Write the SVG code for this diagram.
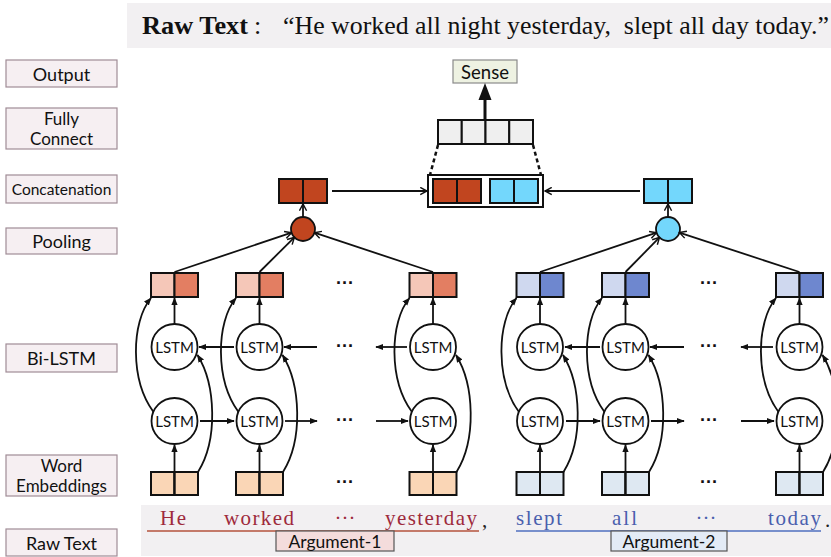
<svg xmlns="http://www.w3.org/2000/svg" width="831" height="557" viewBox="0 0 831 557">
<style>
.lbl{fill:#f6eff2;stroke:#a08c96;stroke-width:1.2}
.lt{font-family:Lato,"Open Sans",sans-serif;font-size:18px;fill:#111;text-anchor:middle;dominant-baseline:central}
.cell{stroke:#111;stroke-width:2}
.c1{fill:#f5c7b8}.c2{fill:#e37e62}.c3{fill:#cfd8ef}.c4{fill:#6e87cf}
.e1{fill:#fad6b6}.e2{fill:#dee8f2}
.pr{fill:#c1451f}.pb{fill:#73d7fc}
.fc{fill:#efefef}
.lstm{fill:#fff;stroke:#111;stroke-width:1.8}
.ltx{font-family:Lato,"Open Sans",sans-serif;font-size:15px;fill:#111;text-anchor:middle;dominant-baseline:central}
.dots{font-family:"Liberation Sans",sans-serif;font-size:18px;font-weight:bold;fill:#111;text-anchor:middle}
.ln{fill:none;stroke:#111;stroke-width:1.8}
.w{font-family:"Liberation Serif",serif;font-size:21px}
.red{fill:#9e2a3c}.blue{fill:#4a5fae}
</style>
<defs>
<marker id="tri" viewBox="0 0 10 10" refX="9" refY="5" markerWidth="8" markerHeight="8" markerUnits="userSpaceOnUse" orient="auto"><path d="M0,1 L10,5 L0,9 z" fill="#111"/></marker>
<marker id="open" viewBox="0 0 10 10" refX="9" refY="5" markerWidth="9" markerHeight="9" markerUnits="userSpaceOnUse" orient="auto"><path d="M1.5,1 L9,5 L1.5,9" fill="none" stroke="#111" stroke-width="1.6"/></marker>
</defs>
<rect width="831" height="557" fill="#fff"/>
<g id="header">
<rect x="127" y="3" width="704" height="45" fill="#f2f0f2"/>
<text x="142" y="34" font-family="Liberation Serif,serif" font-size="26" font-weight="bold" fill="#111" textLength="106" lengthAdjust="spacingAndGlyphs">Raw Text</text>
<text x="254" y="34" font-family="Liberation Serif,serif" font-size="26" fill="#111">:</text>
<text x="283" y="34" font-family="Liberation Serif,serif" font-size="26" fill="#111" xml:space="preserve" textLength="546" lengthAdjust="spacingAndGlyphs">“He worked all night yesterday,  slept all day today.”</text>
</g>
<g id="labels">
<g id="lbl-output"><rect class="lbl" x="6" y="60" width="111" height="27"/><text class="lt" x="61.5" y="73.5">Output</text></g>
<g id="lbl-fc"><rect class="lbl" x="6" y="108" width="111" height="41"/><text class="lt" x="61.5" y="118" style="font-size:17px">Fully</text><text class="lt" x="61.5" y="138" style="font-size:17px">Connect</text></g>
<g id="lbl-concat"><rect class="lbl" x="6" y="175" width="111" height="28"/><text class="lt" x="61.5" y="189" style="font-size:15.5px">Concatenation</text></g>
<g id="lbl-pool"><rect class="lbl" x="6" y="228" width="111" height="26"/><text class="lt" x="61.5" y="241">Pooling</text></g>
<g id="lbl-bilstm"><rect class="lbl" x="6" y="344" width="111" height="28"/><text class="lt" x="61.5" y="358">Bi-LSTM</text></g>
<g id="lbl-emb"><rect class="lbl" x="6" y="455" width="111" height="41"/><text class="lt" x="61.5" y="465" style="font-size:17px">Word</text><text class="lt" x="61.5" y="485" style="font-size:17px">Embeddings</text></g>
<g id="lbl-raw"><rect class="lbl" x="6" y="529" width="111" height="27"/><text class="lt" x="61.5" y="542.5">Raw Text</text></g>
</g>
<g id="sense"><rect x="453" y="60" width="64" height="23" fill="#eef2e2" stroke="#8a8a8a" stroke-width="1.2"/><text class="lt" x="485" y="71.5" style="font-size:18.5px">Sense</text></g>
<g id="fully-connect">
<rect class="cell fc" x="438" y="120" width="23.75" height="24"/><rect class="cell fc" x="461.75" y="120" width="23.75" height="24"/><rect class="cell fc" x="485.5" y="120" width="23.75" height="24"/><rect class="cell fc" x="509.25" y="120" width="23.75" height="24"/>
</g>
<g id="concat">
<rect x="428" y="175" width="115" height="32" fill="#fff" stroke="#111" stroke-width="2"/>
<rect class="cell pr" x="433" y="179" width="24" height="24"/><rect class="cell pr" x="457" y="179" width="24" height="24"/>
<rect class="cell pb" x="490" y="179" width="24" height="24"/><rect class="cell pb" x="514" y="179" width="24" height="24"/>
</g>
<g id="pooled-left"><rect class="cell pr" x="279" y="179" width="24" height="24"/><rect class="cell pr" x="303" y="179" width="24" height="24"/></g>
<g id="pooled-right"><rect class="cell pb" x="644" y="179" width="24" height="24"/><rect class="cell pb" x="668" y="179" width="24" height="24"/></g>
<g id="pool-left"><circle cx="303" cy="229" r="12" class="pr" stroke="#111" stroke-width="1.8"/></g>
<g id="pool-right"><circle cx="668" cy="229" r="12" class="pb" stroke="#111" stroke-width="1.8"/></g>

<g id="top-boxes">
<g id="h1"><rect class="cell c1" x="151" y="273" width="23.5" height="24"/><rect class="cell c2" x="174.5" y="273" width="23.5" height="24"/></g>
<g id="h2"><rect class="cell c1" x="236" y="273" width="23.5" height="24"/><rect class="cell c2" x="259.5" y="273" width="23.5" height="24"/></g>
<g id="h3"><rect class="cell c1" x="409.5" y="273" width="23.5" height="24"/><rect class="cell c2" x="433" y="273" width="23.5" height="24"/></g>
<g id="h4"><rect class="cell c3" x="516.5" y="273" width="23.5" height="24"/><rect class="cell c4" x="540" y="273" width="23.5" height="24"/></g>
<g id="h5"><rect class="cell c3" x="602" y="273" width="23.5" height="24"/><rect class="cell c4" x="625.5" y="273" width="23.5" height="24"/></g>
<g id="h6"><rect class="cell c3" x="776" y="273" width="23.5" height="24"/><rect class="cell c4" x="799.5" y="273" width="23.5" height="24"/></g>
</g>
<g id="lstm-nodes">
<g id="u1"><circle class="lstm" cx="174.5" cy="347" r="23"/><text class="ltx" x="174.5" y="347">LSTM</text></g>
<g id="u2"><circle class="lstm" cx="259.5" cy="347" r="23"/><text class="ltx" x="259.5" y="347">LSTM</text></g>
<g id="u3"><circle class="lstm" cx="433" cy="347" r="23"/><text class="ltx" x="433" y="347">LSTM</text></g>
<g id="u4"><circle class="lstm" cx="540" cy="347" r="23"/><text class="ltx" x="540" y="347">LSTM</text></g>
<g id="u5"><circle class="lstm" cx="625.5" cy="347" r="23"/><text class="ltx" x="625.5" y="347">LSTM</text></g>
<g id="u6"><circle class="lstm" cx="799.5" cy="347" r="23"/><text class="ltx" x="799.5" y="347">LSTM</text></g>
<g id="d1"><circle class="lstm" cx="174.5" cy="421" r="23"/><text class="ltx" x="174.5" y="421">LSTM</text></g>
<g id="d2"><circle class="lstm" cx="259.5" cy="421" r="23"/><text class="ltx" x="259.5" y="421">LSTM</text></g>
<g id="d3"><circle class="lstm" cx="433" cy="421" r="23"/><text class="ltx" x="433" y="421">LSTM</text></g>
<g id="d4"><circle class="lstm" cx="540" cy="421" r="23"/><text class="ltx" x="540" y="421">LSTM</text></g>
<g id="d5"><circle class="lstm" cx="625.5" cy="421" r="23"/><text class="ltx" x="625.5" y="421">LSTM</text></g>
<g id="d6"><circle class="lstm" cx="799.5" cy="421" r="23"/><text class="ltx" x="799.5" y="421">LSTM</text></g>
</g>
<g id="emb-boxes">
<g id="e1"><rect class="cell e1" x="151" y="472" width="23.5" height="23"/><rect class="cell e1" x="174.5" y="472" width="23.5" height="23"/></g>
<g id="e2"><rect class="cell e1" x="236" y="472" width="23.5" height="23"/><rect class="cell e1" x="259.5" y="472" width="23.5" height="23"/></g>
<g id="e3"><rect class="cell e1" x="409.5" y="472" width="23.5" height="23"/><rect class="cell e1" x="433" y="472" width="23.5" height="23"/></g>
<g id="e4"><rect class="cell e2" x="516.5" y="472" width="23.5" height="23"/><rect class="cell e2" x="540" y="472" width="23.5" height="23"/></g>
<g id="e5"><rect class="cell e2" x="602" y="472" width="23.5" height="23"/><rect class="cell e2" x="625.5" y="472" width="23.5" height="23"/></g>
<g id="e6"><rect class="cell e2" x="776" y="472" width="23.5" height="23"/><rect class="cell e2" x="799.5" y="472" width="23.5" height="23"/></g>
</g>
<g id="ellipses">
<text class="dots" x="345" y="289">···</text><text class="dots" x="345" y="352">···</text><text class="dots" x="345" y="426">···</text><text class="dots" x="345" y="488">···</text>
<text class="dots" x="709" y="289">···</text><text class="dots" x="709" y="352">···</text><text class="dots" x="709" y="426">···</text><text class="dots" x="709" y="488">···</text>
</g>

<g id="connectors">
<line x1="485" y1="120" x2="485" y2="98" stroke="#111" stroke-width="3"/>
<polygon points="485,83 478.5,100 491.5,100" fill="#111"/>
<line x1="438" y1="145" x2="430" y2="175" stroke="#111" stroke-width="2.5" stroke-dasharray="4,3"/>
<line x1="533" y1="145" x2="541" y2="175" stroke="#111" stroke-width="2.5" stroke-dasharray="4,3"/>
<path class="ln" d="M332,191 L427,191" marker-end="url(#open)"/>
<path class="ln" d="M640,191 L545,191" marker-end="url(#open)"/>
<path class="ln" d="M303,217 L303,204" marker-end="url(#open)"/>
<path class="ln" d="M668,217 L668,204" marker-end="url(#open)"/>
<path class="ln" d="M174.5,272 L291.6,232.7" marker-end="url(#open)"/>
<path class="ln" d="M259.5,272 L294.4,237.3" marker-end="url(#open)"/>
<path class="ln" d="M433,272 L314.4,232.7" marker-end="url(#open)"/>
<path class="ln" d="M540,272 L656.6,232.7" marker-end="url(#open)"/>
<path class="ln" d="M625.5,272 L659.5,237.4" marker-end="url(#open)"/>
<path class="ln" d="M799.5,272 L679.4,232.6" marker-end="url(#open)"/>
<path class="ln" d="M174.5,495 L174.5,445" marker-end="url(#tri)"/>
<path class="ln" d="M259.5,495 L259.5,445" marker-end="url(#tri)"/>
<path class="ln" d="M433,495 L433,445" marker-end="url(#tri)"/>
<path class="ln" d="M540,495 L540,445" marker-end="url(#tri)"/>
<path class="ln" d="M625.5,495 L625.5,445" marker-end="url(#tri)"/>
<path class="ln" d="M799.5,495 L799.5,445" marker-end="url(#tri)"/>
<path class="ln" d="M174.5,324 L174.5,298" marker-end="url(#tri)"/>
<path class="ln" d="M259.5,324 L259.5,298" marker-end="url(#tri)"/>
<path class="ln" d="M433,324 L433,298" marker-end="url(#tri)"/>
<path class="ln" d="M540,324 L540,298" marker-end="url(#tri)"/>
<path class="ln" d="M625.5,324 L625.5,298" marker-end="url(#tri)"/>
<path class="ln" d="M799.5,324 L799.5,298" marker-end="url(#tri)"/>
<path class="ln" d="M153.5,412 C130,380 131,322 151,298" marker-end="url(#tri)"/>
<path class="ln" d="M238.5,412 C215,380 216,322 236,298" marker-end="url(#tri)"/>
<path class="ln" d="M412,412 C388.5,380 389.5,322 409.5,298" marker-end="url(#tri)"/>
<path class="ln" d="M519,412 C495.5,380 496.5,322 516.5,298" marker-end="url(#tri)"/>
<path class="ln" d="M604.5,412 C581,380 582,322 602,298" marker-end="url(#tri)"/>
<path class="ln" d="M778.5,412 C755,380 756,322 776,298" marker-end="url(#tri)"/>
<path class="ln" d="M198,472 C218,440 216,385 197.5,355" marker-end="url(#tri)"/>
<path class="ln" d="M283,472 C303,440 301,385 282.5,355" marker-end="url(#tri)"/>
<path class="ln" d="M456.5,472 C476.5,440 474.5,385 456,355" marker-end="url(#tri)"/>
<path class="ln" d="M563.5,472 C583.5,440 581.5,385 563,355" marker-end="url(#tri)"/>
<path class="ln" d="M649,472 C669,440 667,385 648.5,355" marker-end="url(#tri)"/>
<path class="ln" d="M823,472 C843,440 841,385 822.5,355" marker-end="url(#tri)"/>
<path class="ln" d="M234,347 L199,347" marker-end="url(#tri)"/>
<path class="ln" d="M317,347 L284,347" marker-end="url(#tri)"/>
<path class="ln" d="M407,347 L376,347" marker-end="url(#tri)"/>
<path class="ln" d="M600,347 L565,347" marker-end="url(#tri)"/>
<path class="ln" d="M684,347 L650,347" marker-end="url(#tri)"/>
<path class="ln" d="M773,347 L741,347" marker-end="url(#tri)"/>
<path class="ln" d="M200,421 L234,421" marker-end="url(#tri)"/>
<path class="ln" d="M285,421 L317,421" marker-end="url(#tri)"/>
<path class="ln" d="M376,421 L408,421" marker-end="url(#tri)"/>
<path class="ln" d="M566,421 L600,421" marker-end="url(#tri)"/>
<path class="ln" d="M651,421 L684,421" marker-end="url(#tri)"/>
<path class="ln" d="M741,421 L774,421" marker-end="url(#tri)"/>
</g>

<g id="raw-text">
<rect x="141" y="505" width="690" height="51" fill="#f2f0f2"/>
<line x1="147" y1="531" x2="479" y2="531" stroke="#b5533c" stroke-width="1.5"/>
<line x1="516" y1="531" x2="821" y2="531" stroke="#4f6fbf" stroke-width="1.5"/>
<text class="w red" x="160" y="525" textLength="26" lengthAdjust="spacing">He</text>
<text class="w red" x="224" y="525" textLength="70" lengthAdjust="spacing">worked</text>
<text class="w red" x="345" y="525" text-anchor="middle">···</text>
<text class="w red" x="385" y="525" textLength="92" lengthAdjust="spacing">yesterday</text>
<text class="w" x="482" y="527" fill="#222">,</text>
<text class="w blue" x="516" y="525" textLength="46" lengthAdjust="spacing">slept</text>
<text class="w blue" x="612" y="525" textLength="25" lengthAdjust="spacing">all</text>
<text class="w blue" x="706" y="525" text-anchor="middle">···</text>
<text class="w blue" x="768" y="525" textLength="53" lengthAdjust="spacing">today</text>
<text class="w" x="825" y="527" fill="#222">.</text>
</g>
<g id="arg1"><rect x="276" y="531" width="118" height="20" fill="#f4dcdc" stroke="#555" stroke-width="1.2"/><text class="lt" x="335" y="541" style="font-size:17.5px">Argument-1</text></g>
<g id="arg2"><rect x="611" y="531" width="116" height="20" fill="#e3ebf6" stroke="#555" stroke-width="1.2"/><text class="lt" x="669" y="541" style="font-size:17.5px">Argument-2</text></g>
</svg>
